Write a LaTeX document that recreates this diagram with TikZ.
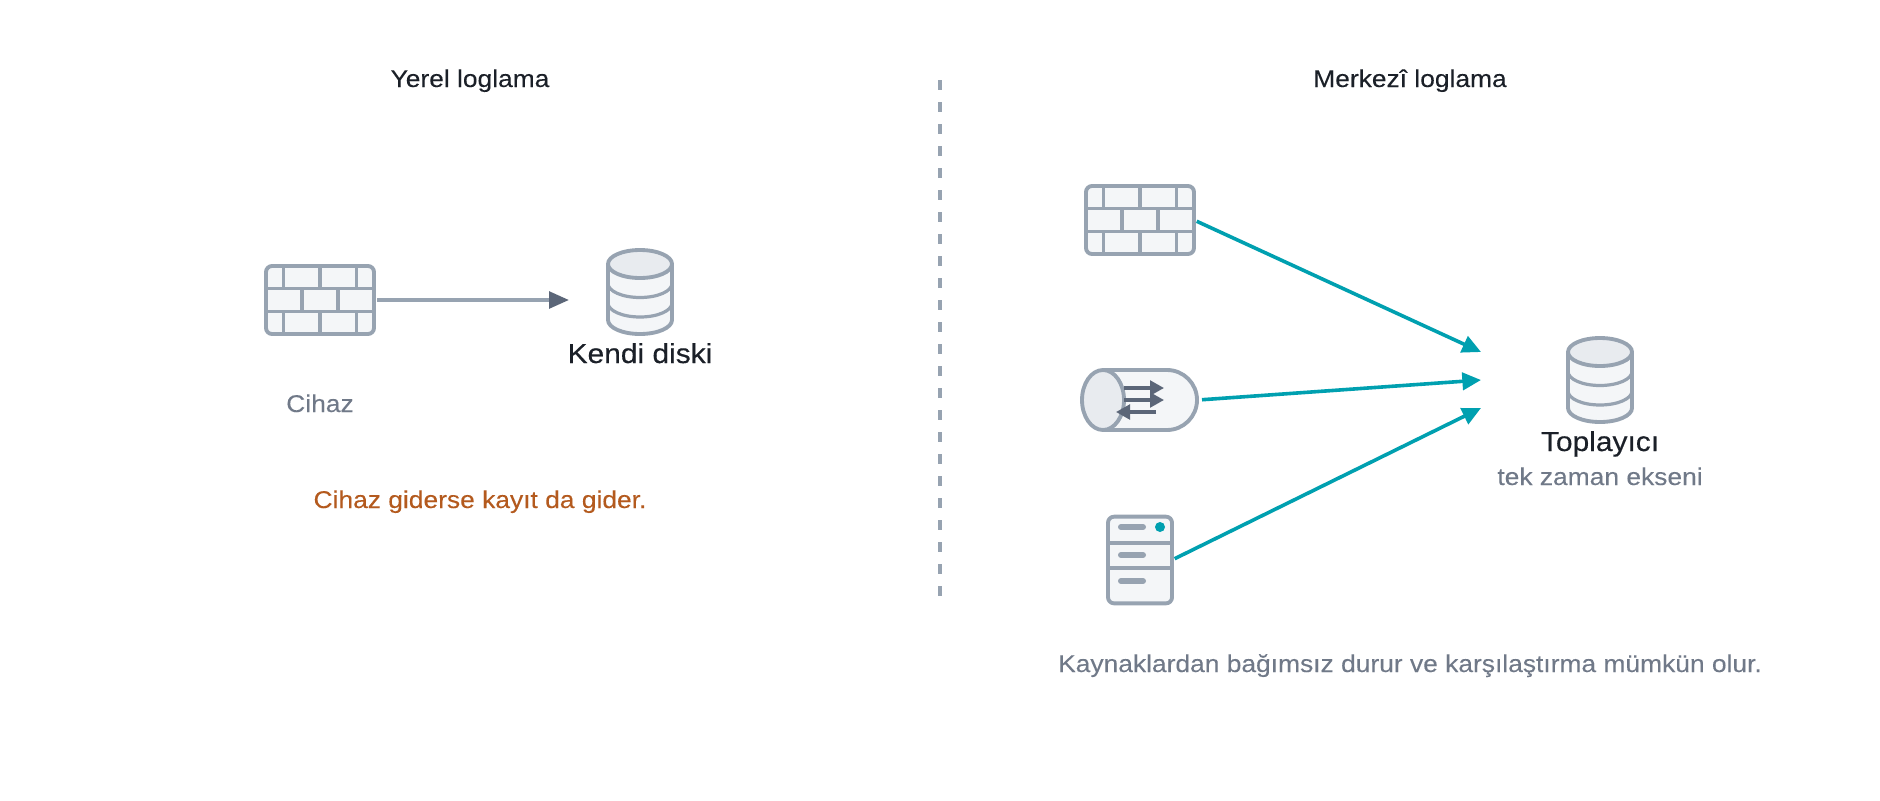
\documentclass[tikz,border=0pt]{standalone}
\usepackage{fontspec}
\setmainfont[FakeStretch=1.09,FakeBold=0.06]{Liberation Sans}
\newfontfamily\medfont[FakeStretch=1.09,FakeBold=0.3]{Liberation Sans}
\usetikzlibrary{arrows.meta}
\definecolor{ink}{HTML}{1B2028}
\definecolor{muted}{HTML}{707988}
\definecolor{warn}{HTML}{B45A1E}
\definecolor{edge}{HTML}{97A3B1}
\definecolor{slate}{HTML}{5B6678}
\definecolor{teal}{HTML}{00A0B0}
\definecolor{bodyfill}{HTML}{F4F6F8}
\definecolor{capfill}{HTML}{E8EBEF}
\tikzset{
  x=0.75pt,y=-0.75pt,
  shapeline/.style={draw=edge,line width=2.9pt,line join=round},
  anchorbox/.style={inner sep=0pt,outer sep=0pt,rectangle},
  wallbox/.style={anchorbox,shapeline,fill=bodyfill,rounded corners=4.5pt,minimum width=81pt,minimum height=51pt},
  joint/.style={draw=edge,line width=2.4pt},
  title/.style={inner sep=0pt,text=ink,font=\fontsize{18.15}{22}\selectfont},
  caption/.style={inner sep=0pt,text=muted,font=\fontsize{18.15}{22}\selectfont},
  strong/.style={inner sep=0pt,text=ink,font=\medfont\fontsize{20.6}{24}\selectfont},
  warning/.style={inner sep=0pt,text=warn,font=\fontsize{18.15}{22}\selectfont},
  flowgray/.style={draw=edge,line width=2.7pt,-{Triangle[length=15pt,width=12.5pt,color=slate]}},
  flowteal/.style={draw=teal,line width=2.7pt,shorten <=2.25pt,-{Triangle[length=14pt,width=13pt]}},
  inner/.style={draw=slate,line width=2.4pt,-{Triangle[length=10.5pt,width=11pt]}},
}
\newcommand{\fwall}[3]{%
  \node[wallbox] (#1) at (#2,#3) {};
  \begin{scope}[shift={(#2,#3)}]
    \foreach \vx in {-36.67,0,36.67}{
      \draw[joint] (\vx,-34) -- (\vx,-11.33);
      \draw[joint] (\vx,11.33) -- (\vx,34);}
    \foreach \vx in {-18,18}{\draw[joint] (\vx,-11.33) -- (\vx,11.33);}
    \draw[joint] (-54,-11.33) -- (54,-11.33);
    \draw[joint] (-54,11.33) -- (54,11.33);
  \end{scope}}
\newcommand{\dbdisk}[3]{%
  \node[anchorbox,minimum width=48pt,minimum height=63pt] (#1) at (#2,#3) {};
  \begin{scope}[shift={(#2,#3)}]
    \path[shapeline,fill=bodyfill] (-32,-28) -- (-32,28) arc[start angle=180,end angle=0,x radius=32,y radius=14] -- (32,-28) -- cycle;
    \draw[joint] (-32,-8.5) arc[start angle=180,end angle=0,x radius=32,y radius=14];
    \draw[joint] (-32,11) arc[start angle=180,end angle=0,x radius=32,y radius=14];
    \path[shapeline,fill=capfill] (0,-28) ellipse[x radius=32,y radius=14];
  \end{scope}}
\begin{document}
\begin{tikzpicture}
\useasboundingbox (0,0) rectangle (1880,800);
\fill[white] (0,0) rectangle (1880,800);

% left panel
\node[title,anchor=base] (t1) at (470,87) {Yerel loglama};
\fwall{fw1}{320}{300}
\dbdisk{d1}{640}{292}
\coordinate (tip0) at (569,300);
\draw[flowgray,shorten <=2.25pt] (fw1.east) -- (tip0);
\node[strong,anchor=base] (l1) at (640,363) {Kendi diski};
\node[caption,anchor=base] (l2) at (320,412) {Cihaz};
\node[warning,anchor=base] (l3) at (480,508) {Cihaz giderse kayıt da gider.};

% divider
\coordinate (da) at (940,80);
\coordinate (db) at (940,596);
\draw[draw=edge,line width=2.4pt,dash pattern=on 7.5pt off 9pt] (da) -- (db);

% right panel
\node[title,anchor=base] (t2) at (1410,87) {Merkezî loglama};
\fwall{fw2}{1140}{220}

% tube
\node[anchorbox,minimum width=87pt,minimum height=45pt] (tube) at (1140,400) {};
\path[shapeline,fill=bodyfill] (1103,370) -- (1167,370) arc[start angle=-90,end angle=90,x radius=30,y radius=30] -- (1103,430) -- cycle;
\path[shapeline,fill=capfill] (1103,400) ellipse[x radius=21,y radius=30];
\coordinate (ta) at (1124,388);\coordinate (tb) at (1164,388);
\coordinate (tc) at (1124,400);\coordinate (td) at (1164,400);
\coordinate (te) at (1156,412);\coordinate (tf) at (1116,412);
\draw[inner] (ta) -- (tb);
\draw[inner] (tc) -- (td);
\draw[inner] (te) -- (tf);

% server
\node[anchorbox,shapeline,fill=bodyfill,rounded corners=4.5pt,minimum width=48pt,minimum height=65pt] (srv) at (1140,560) {};
\draw[joint] (1108,543) -- (1172,543);
\draw[joint] (1108,568) -- (1172,568);
\foreach \by in {527,555,581}{\draw[edge,line width=4.5pt,line cap=round] (1121,\by) -- (1143,\by);}
\fill[teal] (1160,527) circle[radius=5];

\dbdisk{d2}{1600}{380}
\coordinate (tip1) at (1481,352);
\coordinate (tip2) at (1481,380);
\coordinate (tip3) at (1481,408);
\draw[flowteal] (fw2.east) -- (tip1);
\draw[flowteal,shorten <=3pt] (tube.east) -- (tip2);
\draw[flowteal] (srv.east) -- (tip3);

\node[strong,anchor=base] (l4) at (1600,451) {Toplayıcı};
\node[caption,anchor=base] (l5) at (1600,485) {tek zaman ekseni};
\node[caption,anchor=base] (l6) at (1410,672) {Kaynaklardan bağımsız durur ve karşılaştırma mümkün olur.};
\end{tikzpicture}
\end{document}
